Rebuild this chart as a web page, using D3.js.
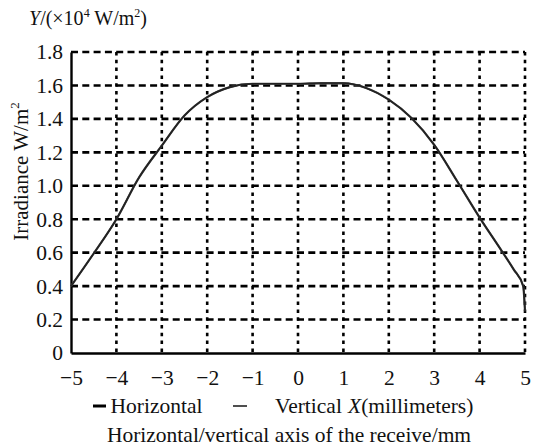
<!DOCTYPE html>
<html>
<head>
<meta charset="utf-8">
<script src="https://cdn.jsdelivr.net/npm/d3@7"></script>
<style>
  html, body { margin: 0; padding: 0; background: #fff; }
  svg { display: block; }
  svg text { font-family: "Liberation Serif", "DejaVu Serif", serif !important; }
</style>
</head>
<body>
<svg id="chart" width="534" height="447"></svg>
<script>
// ---- data ----
const xValues = [-5, -4.5, -4, -3.5, -3, -2.5, -2, -1.5, -1, -0.5, 0, 0.5, 1, 1.5, 2, 2.5, 3, 3.5, 4, 4.5, 4.75, 4.96, 5];
const horizontalValues = [0.40, 0.595, 0.80, 1.05, 1.24, 1.42, 1.53, 1.59, 1.61, 1.61, 1.61, 1.615, 1.615, 1.585, 1.515, 1.405, 1.245, 1.03, 0.81, 0.605, 0.50, 0.40, 0.25];
const verticalValues   = [0.40, 0.595, 0.80, 1.05, 1.24, 1.42, 1.53, 1.59, 1.61, 1.61, 1.61, 1.612, 1.612, 1.585, 1.515, 1.405, 1.245, 1.03, 0.81, 0.605, 0.50, 0.40, 0.25];
const xTicks = [-5, -4, -3, -2, -1, 0, 1, 2, 3, 4, 5];
const yTicks = [0, 0.2, 0.4, 0.6, 0.8, 1.0, 1.2, 1.4, 1.6, 1.8];
const seriesNames = ["Horizontal", "Vertical"];

// ---- layout ----
const svg = d3.select("#chart");
const L = 71, R = 525, T = 52, B = 353;
const FS = 21.5;
const x = d3.scaleLinear().domain([-5, 5]).range([L, R]);
const y = d3.scaleLinear().domain([0, 1.8]).range([B, T]);

// horizontal dashed grid
svg.append("g").selectAll("line").data(yTicks.filter(d => d > 0)).join("line")
  .attr("x1", L).attr("x2", R)
  .attr("y1", d => y(d)).attr("y2", d => y(d))
  .attr("stroke", "#000").attr("stroke-width", 2.6)
  .attr("stroke-dasharray", "7,4.3");

// vertical dotted grid
svg.append("g").selectAll("line").data(xTicks.filter(d => d > -5)).join("line")
  .attr("x1", d => x(d)).attr("x2", d => x(d))
  .attr("y1", T).attr("y2", B)
  .attr("stroke", "#000").attr("stroke-width", 2.6)
  .attr("stroke-dasharray", "3.5,4.3");

// axes (solid left & bottom)
const xAxis = d3.axisBottom(x).tickValues(xTicks).tickSize(0).tickPadding(17)
  .tickFormat(d => d < 0 ? "\u2212" + Math.abs(d) : String(d));
const gx = svg.append("g").attr("transform", `translate(0,${B})`).call(xAxis);
gx.attr("font-family", null);
gx.select(".domain").attr("stroke", "#000").attr("stroke-width", 2.4);
gx.selectAll("text").attr("font-size", FS).attr("fill", "#111").attr("dy", "0.71em");

const yAxis = d3.axisLeft(y).tickValues(yTicks).tickSize(0).tickPadding(8)
  .tickFormat(d => d === 0 ? "0" : d3.format(".1f")(d));
const gy = svg.append("g").attr("transform", `translate(${L},0)`).call(yAxis);
gy.attr("font-family", null);
gy.select(".domain").attr("stroke", "#000").attr("stroke-width", 2.4);
gy.selectAll("text").attr("font-size", FS).attr("fill", "#111");

// curves
const line = d3.line().x(d => x(d[0])).y(d => y(d[1])).curve(d3.curveMonotoneX);
svg.append("path").datum(xValues.map((v, i) => [v, verticalValues[i]]))
  .attr("d", line).attr("fill", "none").attr("stroke", "#444").attr("stroke-width", 2.2);
svg.append("path").datum(xValues.map((v, i) => [v, horizontalValues[i]]))
  .attr("d", line).attr("fill", "none").attr("stroke", "#222").attr("stroke-width", 1.6);

// top unit label
const unitLabel = svg.append("text").attr("x", 29).attr("y", 25).attr("font-size", 20).attr("fill", "#111");
unitLabel.append("tspan").attr("font-style", "italic").text("Y");
unitLabel.append("tspan").text("/(\u00d710");
unitLabel.append("tspan").attr("font-size", 12).attr("dy", -8).text("4");
unitLabel.append("tspan").attr("dy", 8).text(" W/m");
unitLabel.append("tspan").attr("font-size", 12).attr("dy", -8).text("2");
unitLabel.append("tspan").attr("dy", 8).text(")");

// y title
const yt = svg.append("text").attr("transform", "translate(28,171.5) rotate(-90)")
  .attr("text-anchor", "middle").attr("font-size", 21).attr("fill", "#111");
yt.append("tspan").text("Irradiance W/m");
yt.append("tspan").attr("font-size", 13).attr("dy", -9).text("2");

// legend row
svg.append("line").attr("x1", 93).attr("x2", 106).attr("y1", 406).attr("y2", 406)
  .attr("stroke", "#000").attr("stroke-width", 3);
svg.append("text").attr("x", 110.5).attr("y", 413).attr("font-size", FS).attr("fill", "#111").text(seriesNames[0]);
svg.append("line").attr("x1", 233).attr("x2", 247).attr("y1", 406).attr("y2", 406)
  .attr("stroke", "#222").attr("stroke-width", 1.6);
svg.append("text").attr("x", 275).attr("y", 413).attr("font-size", FS).attr("fill", "#111").text(seriesNames[1]);
const xl = svg.append("text").attr("x", 348).attr("y", 413).attr("font-size", FS).attr("fill", "#111");
xl.append("tspan").attr("font-style", "italic").text("X");
xl.append("tspan").text("(millimeters)");

// bottom title
svg.append("text").attr("x", 289).attr("y", 441.5).attr("text-anchor", "middle")
  .attr("font-size", FS).attr("fill", "#111").text("Horizontal/vertical axis of the receive/mm");
</script>
</body>
</html>
